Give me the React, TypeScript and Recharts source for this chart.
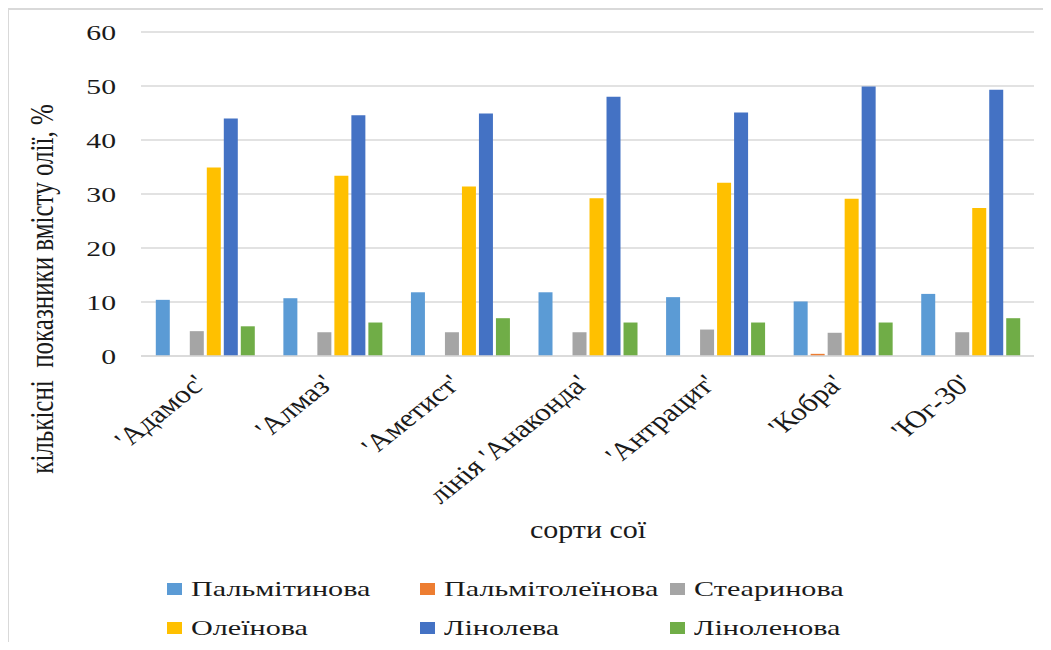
import React from "react";
import { BarChart, Bar, XAxis, YAxis, CartesianGrid } from "recharts";

const categories = [
  "'Адамос'",
  "'Алмаз'",
  "'Аметист'",
  "лінія 'Анаконда'",
  "'Антрацит'",
  "'Кобра'",
  "'Юг-30'",
];

const palmitic = [10.4, 10.7, 11.8, 11.8, 10.9, 10.1, 11.5];
const palmitoleic = [0, 0, 0, 0, 0, 0.4, 0];
const stearic = [4.6, 4.4, 4.4, 4.4, 4.9, 4.3, 4.4];
const oleic = [34.9, 33.4, 31.4, 29.2, 32.1, 29.1, 27.4];
const linoleic = [44.0, 44.6, 44.9, 48.0, 45.1, 49.9, 49.3];
const linolenic = [5.5, 6.2, 7.0, 6.2, 6.2, 6.2, 7.0];

const yTicks = [0, 10, 20, 30, 40, 50, 60];

const series = [
  { key: "pal", name: "Пальмітинова", values: palmitic, color: "#5B9BD5" },
  { key: "palo", name: "Пальмітолеїнова", values: palmitoleic, color: "#ED7D31" },
  { key: "st", name: "Стеаринова", values: stearic, color: "#A5A5A5" },
  { key: "ol", name: "Олеїнова", values: oleic, color: "#FFC000" },
  { key: "lin", name: "Лінолева", values: linoleic, color: "#4472C4" },
  { key: "linn", name: "Ліноленова", values: linolenic, color: "#70AD47" },
];

const data = categories.map((c, i) => {
  const row: Record<string, string | number> = { name: c };
  series.forEach((s) => (row[s.key] = s.values[i]));
  return row;
});

const FONT = '"Liberation Serif", "Times New Roman", serif';
const SX = 1.25; // the source picture is stretched horizontally
const TEXT = "#1a1a1a";

function YTick({ x, y, payload }: any) {
  return (
    <text
      transform={`translate(${x + 1},${y + 8}) scale(1.35,1)`}
      textAnchor="end"
      fontSize={22}
      fontFamily={FONT}
      fill={TEXT}
    >
      {payload.value}
    </text>
  );
}

function XTick({ x, y, payload }: any) {
  return (
    <text
      transform={`translate(${x + 3},${y + 29}) scale(${SX},1) rotate(-45)`}
      textAnchor="end"
      fontSize={25}
      fontFamily={FONT}
      fill={TEXT}
    >
      {payload.value}
    </text>
  );
}

export default function App() {
  return (
    <div style={{ position: "relative", width: 1051, height: 650, margin: -8, overflow: "hidden", background: "#fff" }}>
      <div
        style={{
          position: "absolute",
          left: 7,
          top: 8,
          right: -2,
          bottom: -2,
          borderTop: "2px solid #d9d9d9",
          borderLeft: "2px solid #d9d9d9",
        }}
      />
      <div style={{ position: "absolute", left: 0, top: 0 }}>
        <BarChart
          width={1051}
          height={650}
          data={data}
          margin={{ top: 32, right: 17, left: 0, bottom: 144 }}
          barCategoryGap="11.6%"
          barGap={3}
        >
          <CartesianGrid stroke="#d9d9d9" strokeWidth={1.5} vertical={false} />
          <XAxis
            dataKey="name"
            height={150}
            interval={0}
            tickLine={false}
            tickSize={0}
            tickMargin={0}
            axisLine={{ stroke: "#d9d9d9", strokeWidth: 1.5 }}
            tick={<XTick />}
          />
          <YAxis
            width={141}
            domain={[0, 60]}
            ticks={yTicks}
            tickLine={false}
            axisLine={false}
            tickSize={0}
            tickMargin={26}
            tick={<YTick />}
          />
          {series.map((s) => (
            <Bar key={s.key} dataKey={s.key} name={s.name} fill={s.color} isAnimationActive={false} />
          ))}
        </BarChart>
      </div>
      <svg width={1051} height={650} style={{ position: "absolute", left: 0, top: 0, pointerEvents: "none" }}>
        <text
          transform={`translate(53,289) scale(1.35,1) rotate(-90)`}
          textAnchor="middle"
          fontSize={25}
          fontFamily={FONT}
          fill={TEXT}
          style={{ whiteSpace: "pre" }}
        >
          кількісні  показники вмісту олії, %
        </text>
        <text
          transform={`translate(588,538) scale(1.2,1)`}
          textAnchor="middle"
          fontSize={25}
          fontFamily={FONT}
          fill={TEXT}
        >
          сорти сої
        </text>
      </svg>
      <div
        style={{
          position: "absolute",
          left: 167,
          top: 569,
          display: "grid",
          gridTemplateColumns: "253px 250px 200px",
          gridAutoRows: "39.5px",
          fontFamily: FONT,
          fontSize: 22,
          color: TEXT,
        }}
      >
        {series.map((s) => (
          <div key={s.key} style={{ display: "flex", alignItems: "center", whiteSpace: "nowrap" }}>
            <span style={{ width: 15, height: 12, background: s.color, marginRight: 9, flex: "none" }} />
            <span style={{ display: "inline-block", transform: "scaleX(1.37)", transformOrigin: "0 50%" }}>{s.name}</span>
          </div>
        ))}
      </div>
    </div>
  );
}
